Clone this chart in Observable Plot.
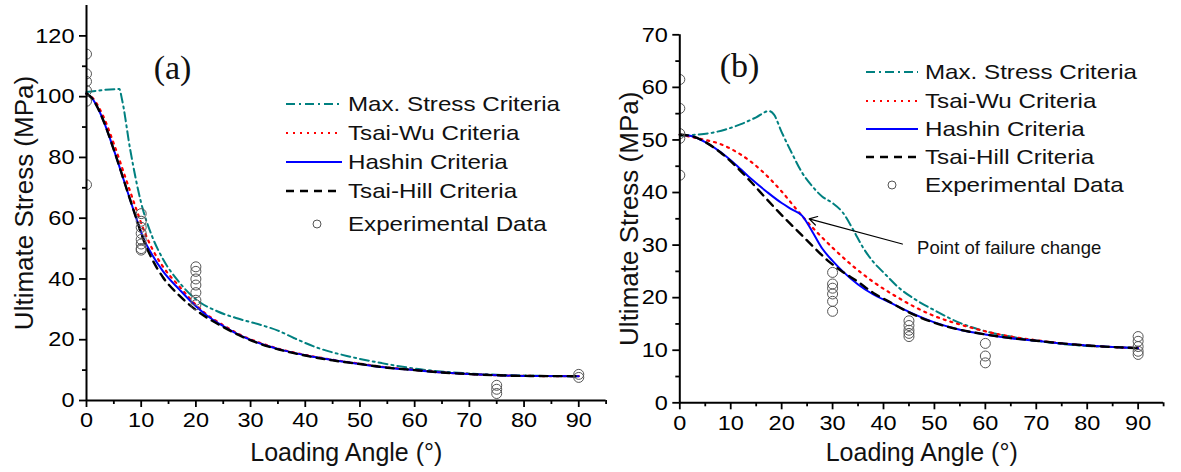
<!DOCTYPE html>
<html><head><meta charset="utf-8">
<script src="https://cdn.jsdelivr.net/npm/d3@7"></script>
<script src="https://cdn.jsdelivr.net/npm/@observablehq/plot@0.6"></script>
<style>
body{margin:0;background:#fff;}
#wrap{position:relative;width:1181px;height:472px;overflow:hidden;font-family:"Liberation Sans",Arial,sans-serif;background:#fff;}
.panel{position:absolute;top:0;}
.legend-row{position:absolute;height:28px;display:flex;align-items:center;white-space:nowrap;font-size:21px;color:#111;}
.legend-row svg{display:block;flex:none;}
.legend-row .lab{display:inline-block;transform:scaleX(1.15);transform-origin:left center;}
</style></head><body><div id="wrap"></div>
<script>
// ---------- shared labels ----------
const seriesNames = ["Max. Stress Criteria", "Tsai-Wu Criteria", "Hashin Criteria", "Tsai-Hill Criteria", "Experimental Data"];
const xLabel = "Loading Angle (°)";
const yLabel = "Ultimate Stress (MPa)";
const xMajor = [0, 10, 20, 30, 40, 50, 60, 70, 80, 90];
const xMinor = [5, 15, 25, 35, 45, 55, 65, 75, 85, 95];

// ---------- panel (a) ----------
const aMaxX = [0, 6, 6.5, 8, 10, 12, 14, 17, 20, 24, 28, 32, 35, 38, 42, 48, 54, 60, 70, 80, 90];
const aMaxY = [101.5, 102.5, 99, 82.5, 65, 54, 46.5, 38.8, 33.3, 29.3, 26.8, 24.8, 23, 20.5, 17.5, 14.5, 12.3, 10.5, 8.9, 8.2, 8.0];
const aX = [0, 1, 2, 3, 5, 7, 9, 10.5, 12, 14, 17, 20, 22, 25, 28, 32, 36, 40, 45, 50, 55, 60, 65, 70, 75, 80, 90];
const aTsaiWuY = [101, 99.8, 97.3, 93.8, 84.5, 74, 63.5, 56, 50, 44, 37.5, 31.5, 28.3, 24.8, 21.7, 18.8, 16.6, 15, 13.4, 12.1, 10.9, 10.05, 9.25, 8.7, 8.3, 8.1, 8.0];
const aHashinY = [101, 99.5, 96.5, 92.5, 82.5, 71.5, 60.5, 53, 48, 42.5, 36.5, 31, 28, 24.5, 21.5, 18.6, 16.5, 14.9, 13.3, 12, 10.8, 10, 9.2, 8.7, 8.3, 8.1, 8.0];
const aTsaiHillY = [101, 99.5, 96.5, 92.5, 82.5, 71.5, 60.5, 52.5, 46.5, 40.5, 34.5, 29.8, 27.3, 24.2, 21.4, 18.5, 16.4, 14.8, 13.2, 12, 10.8, 10, 9.2, 8.7, 8.3, 8.1, 8.0];
const aExpX = [0, 0, 0, 0, 0, 0, 10, 10, 10, 10, 10, 10, 10, 10, 20, 20, 20, 20, 20, 20, 20, 75, 75, 75, 90, 90];
const aExpY = [114, 107.5, 105, 102, 98.5, 71, 61.5, 59, 57, 55, 53, 51.5, 50, 49.5, 44, 42.5, 40, 38, 35.5, 33, 31.5, 5, 3.7, 2.3, 8.6, 7.6];
const aYMajor = [0, 20, 40, 60, 80, 100, 120];
const aYMinor = [10, 30, 50, 70, 90, 110];

// ---------- panel (b) ----------
const bMaxX = [0, 3, 6, 9, 12, 15, 17.5, 18.5, 20, 22, 24, 26, 28, 30, 32, 34, 36, 38, 40, 43, 46, 50, 55, 60, 65, 70, 75, 80, 85, 90];
const bMaxY = [50.8, 51, 51.3, 52, 53, 54.3, 55.5, 54.8, 51.5, 47.5, 43.8, 41.2, 39.2, 38, 36.2, 33, 29.5, 26.8, 24.8, 21.9, 19.8, 17.6, 15.2, 13.6, 12.6, 11.8, 11.2, 10.8, 10.6, 10.4];
const bTsaiWuX = [0, 4, 8, 12, 16, 20, 23, 26, 30, 34, 38, 42, 46, 50, 55, 60, 65, 70, 75, 80, 85, 90];
const bTsaiWuY = [51, 50.2, 49.2, 47.2, 44.2, 40.2, 36.7, 33.4, 29.5, 26, 23, 20.5, 18.3, 16.5, 14.9, 13.6, 12.6, 11.9, 11.3, 10.9, 10.6, 10.4];
const bHashinX = [0, 2, 5, 8, 11, 14, 17, 20, 22, 24, 26, 28, 30, 32, 35, 38, 41, 45, 50, 55, 60, 65, 70, 75, 80, 85, 90];
const bHashinY = [51, 50.8, 49.6, 47.7, 45.3, 42.6, 40.2, 38, 36.8, 35.6, 32.6, 29.3, 27, 25, 22.5, 20.6, 19.2, 17.3, 15.3, 13.9, 13, 12.3, 11.8, 11.3, 10.9, 10.6, 10.4];
const bTsaiHillX = [0, 2, 5, 8, 11, 14, 17, 20, 23, 26, 29, 32, 35, 38, 41, 45, 50, 55, 60, 65, 70, 75, 80, 85, 90];
const bTsaiHillY = [51, 50.8, 49.6, 47.6, 45, 42, 38.8, 35.7, 32.8, 29.9, 27.1, 24.9, 23, 20.9, 19.3, 17.2, 15.2, 13.9, 13, 12.3, 11.8, 11.3, 10.9, 10.6, 10.4];
const bExpX = [0, 0, 0, 0, 0, 30, 30, 30, 30, 30, 30, 45, 45, 45, 45, 45, 60, 60, 60, 90, 90, 90, 90, 90];
const bExpY = [61.5, 56, 51.2, 50.3, 43.3, 24.8, 22.6, 21.8, 20.7, 19.3, 17.4, 15.6, 14.7, 13.8, 13.2, 12.6, 11.3, 8.9, 7.6, 12.6, 11.7, 10.7, 9.8, 9.2];
const bYMajor = [0, 10, 20, 30, 40, 50, 60, 70];
const bYMinor = [5, 15, 25, 35, 45, 55, 65];
const bNote = "Point of failure change";
const bNoteAt = {x: 46.6, y: 29.35};
const bArrow = {x1: 43.7, y1: 30.2, x2: 25.4, y2: 35.0};

// ---------- styles ----------
const styles = [
  {stroke: "#008080", dash: "9,4,2,4", width: 2},
  {stroke: "#ff0000", dash: "2,5", width: 2.2},
  {stroke: "#0000ff", dash: null, width: 2},
  {stroke: "#000000", dash: "8,6", width: 2.4}
];
const dotStroke = "#555";
const FONT = "Liberation Sans, Arial, sans-serif";

const rows = (xs, ys) => xs.map((x, i) => ({x, y: ys[i]}));

function stretchText(svg, selector, s) {
  svg.querySelectorAll(selector).forEach(t => {
    let tr = t.getAttribute("transform");
    if (!tr) {
      const x = t.getAttribute("x");
      if (x != null && !isNaN(+x)) { tr = `translate(${x},0)`; t.removeAttribute("x"); }
      else tr = "";
    }
    t.setAttribute("transform", tr + ` scale(${s},1)`);
  });
}

function makePanel(cfg) {
  const lineMarks = cfg.series.map((s, k) => Plot.line(rows(s.x, s.y), {
    x: "x", y: "y", stroke: styles[k].stroke, strokeWidth: styles[k].width,
    strokeDasharray: styles[k].dash || undefined, curve: "monotone-x"
  }));
  const marks = [
    ...lineMarks,
    Plot.dot(rows(cfg.expX, cfg.expY), {x: "x", y: "y", r: 5, stroke: dotStroke, fill: "none", strokeWidth: 1, clip: true}),
    Plot.ruleX([0], {stroke: "black", strokeWidth: 2}),
    Plot.ruleY([0], {stroke: "black", strokeWidth: 2}),
    Plot.axisX({ticks: xMajor, tickSize: 7, tickPadding: 5, fontSize: 21, strokeWidth: 1.8, label: null, tickFormat: d => String(d)}),
    Plot.axisX({ticks: xMinor, tickSize: 4, strokeWidth: 1.8, fill: "none", label: null}),
    Plot.axisY({ticks: cfg.yMajor, tickSize: 7, tickPadding: 5, fontSize: 21, strokeWidth: 1.8, label: null, tickFormat: d => String(d)}),
    Plot.axisY({ticks: cfg.yMinor, tickSize: 4, strokeWidth: 1.8, fill: "none", label: null}),
    Plot.text([yLabel], {text: d => d, frameAnchor: "left", textAnchor: "middle", lineAnchor: "middle", rotate: -90, dx: cfg.yLabelDx, fontSize: 26, fill: "#111"}),
    Plot.text([xLabel], {text: d => d, frameAnchor: "bottom", textAnchor: "middle", lineAnchor: "middle", dy: cfg.xLabelDy, fontSize: 25, fill: "#111"}),
    Plot.text([cfg.tag], {text: d => d, frameAnchor: "top-left", textAnchor: "middle", lineAnchor: "middle", dx: cfg.tagDx, dy: cfg.tagDy, fontFamily: "Liberation Serif, Times New Roman, serif", fontSize: 34, fill: "#111"})
  ];
  if (cfg.arrow) {
    marks.push(Plot.arrow([cfg.arrow], {x1: "x1", y1: "y1", x2: "x2", y2: "y2", stroke: "black", strokeWidth: 1.2, headLength: 11}));
    marks.push(Plot.text([cfg.note], {x: cfg.noteAt.x, y: cfg.noteAt.y, text: d => d, textAnchor: "start", fontSize: 18.5, fill: "#111", ariaLabel: "note"}));
  }
  const svg = Plot.plot({
    width: cfg.width, height: 472,
    marginTop: cfg.mt, marginBottom: cfg.mb, marginLeft: cfg.ml, marginRight: cfg.mr,
    x: {domain: [0, 95]}, y: {domain: cfg.yDomain},
    style: {fontFamily: FONT, background: "transparent", color: "black", overflow: "visible"},
    marks
  });
  stretchText(svg, 'g[aria-label="x-axis tick label"] text, g[aria-label="y-axis tick label"] text', 1.12);
  stretchText(svg, 'g[aria-label="note"] text', 1.05);
  return svg;
}

function legend(parent, spec) {
  spec.rows.forEach((cy, k) => {
    const row = document.createElement("div");
    row.className = "legend-row";
    row.style.left = spec.left + "px";
    row.style.top = (cy - 14) + "px";
    let sample;
    if (k < 4) {
      const st = styles[k];
      sample = `<svg width="${spec.lineW}" height="12"><line x1="0" y1="6" x2="${spec.lineW}" y2="6" stroke="${st.stroke}" stroke-width="${st.width}" ${st.dash ? `stroke-dasharray="${st.dash}"` : ""}/></svg>`;
    } else {
      sample = `<svg width="${spec.lineW}" height="12"><circle cx="${spec.dotX}" cy="6" r="4" fill="none" stroke="${dotStroke}" stroke-width="1"/></svg>`;
    }
    row.innerHTML = sample + `<span class="lab" style="margin-left:${spec.gap}px">${seriesNames[k]}</span>`;
    parent.appendChild(row);
  });
}

const wrap = document.getElementById("wrap");

const left = makePanel({
  width: 608, mt: 5, mb: 72, ml: 86, mr: 2.4, yDomain: [0, 130],
  yMajor: aYMajor, yMinor: aYMinor,
  series: [{x: aMaxX, y: aMaxY}, {x: aX, y: aTsaiWuY}, {x: aX, y: aHashinY}, {x: aX, y: aTsaiHillY}],
  expX: aExpX, expY: aExpY, tag: "(a)", tagDx: 86, tagDy: 63, yLabelDx: -62, xLabelDy: 52
});
left.classList.add("panel"); left.style.left = "0px";
wrap.appendChild(left);

const right = makePanel({
  width: 573, mt: 34.3, mb: 69.7, ml: 71.3, mr: 17.9, yDomain: [0, 70],
  yMajor: bYMajor, yMinor: bYMinor,
  series: [{x: bMaxX, y: bMaxY}, {x: bTsaiWuX, y: bTsaiWuY}, {x: bHashinX, y: bHashinY}, {x: bTsaiHillX, y: bTsaiHillY}],
  expX: bExpX, expY: bExpY, tag: "(b)", tagDx: 59.7, tagDy: 31.7, yLabelDx: -50, xLabelDy: 50,
  arrow: bArrow, note: bNote, noteAt: bNoteAt
});
right.classList.add("panel"); right.style.left = "608px";
wrap.appendChild(right);

legend(wrap, {left: 286, lineW: 56, gap: 6, dotX: 31, rows: [104, 133, 162, 191, 224]});
legend(wrap, {left: 866, lineW: 52, gap: 7, dotX: 26, rows: [72, 100.5, 129, 157, 185]});
</script></body></html>
